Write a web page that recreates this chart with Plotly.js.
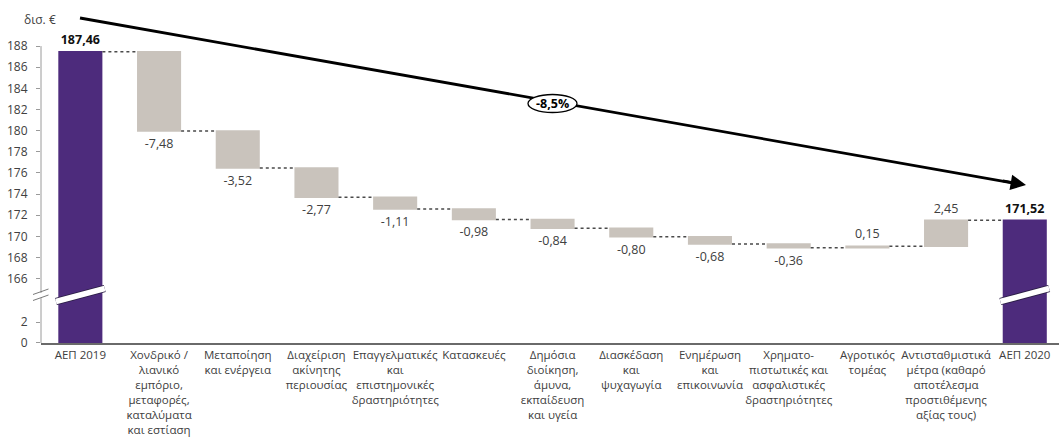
<!DOCTYPE html>
<html><head><meta charset="utf-8">
<script src="https://cdn.plot.ly/plotly-3.0.1.min.js"></script>
<style>html,body{margin:0;padding:0;background:#fff}</style>
</head><body>
<div id="chart" style="width:1059px;height:437px"></div>
<script>
// ---- data ----
const categories = [
  'ΑΕΠ 2019',
  'Χονδρικό /<br>λιανικό<br>εμπόριο,<br>μεταφορές,<br>καταλύματα<br>και εστίαση',
  'Μεταποίηση<br>και ενέργεια',
  'Διαχείριση<br>ακίνητης<br>περιουσίας',
  'Επαγγελματικές<br>και<br>επιστημονικές<br>δραστηριότητες',
  'Κατασκευές',
  'Δημόσια<br>διοίκηση,<br>άμυνα,<br>εκπαίδευση<br>και υγεία',
  'Διασκέδαση<br>και<br>ψυχαγωγία',
  'Ενημέρωση<br>και<br>επικοινωνία',
  'Χρηματο-<br>πιστωτικές και<br>ασφαλιστικές<br>δραστηριότητες',
  'Αγροτικός<br>τομέας',
  'Αντισταθμιστικά<br>μέτρα (καθαρό<br>αποτέλεσμα<br>προστιθέμενης<br>αξίας τους)',
  'ΑΕΠ 2020'
];
const gdp2019 = 187.46;
const gdp2020 = 171.52;
const contributions = [-7.48, -3.52, -2.77, -1.11, -0.98, -0.84, -0.80, -0.68, -0.36, 0.15, 2.45];
const changeLabel = '-8,5%';
const unitLabel = 'δισ. €';
const upperTicks = [166,168,170,172,174,176,178,180,182,184,186,188];
const lowerTicks = [0,2];

// ---- build ----
const fmt = v => v.toFixed(2).replace('.', ',');
const yVals = [gdp2019].concat(contributions, [gdp2020]);
const measures = ['absolute'].concat(contributions.map(() => 'relative'), ['total']);
const texts = yVals.map((v, i) => (i === 0 || i === yVals.length - 1) ? '<b>' + fmt(v) + '</b>' : fmt(v));
const textColors = yVals.map((v, i) => (i === 0 || i === yVals.length - 1) ? '#111111' : '#404040');

const PURPLE = '#4d2b7c';
const GREY = '#c9c3bc';

const L = 41, W = 1018, H = 343;  // plot area in pixels
const px = x => (x - L) / W;
const py = y => 1 - y / H;

const waterfall = {
  type: 'waterfall',
  x: categories, y: yVals, measure: measures,
  xaxis: 'x', yaxis: 'y2',
  width: 0.56,
  text: texts, textposition: 'outside',
  textfont: {size: 12.5, color: textColors},
  outsidetextfont: {size: 12.5, color: textColors},
  decreasing: {marker: {color: GREY}},
  increasing: {marker: {color: GREY}},
  totals: {marker: {color: PURPLE}},
  connector: {mode: 'between', line: {color: '#4a4a4a', width: 1.5, dash: 'dot'}},
  hoverinfo: 'skip'
};
const lowerBars = {
  type: 'bar',
  x: [categories[0], categories[categories.length - 1]],
  y: [gdp2019, gdp2020],
  width: 0.56,
  xaxis: 'x', yaxis: 'y',
  marker: {color: PURPLE},
  hoverinfo: 'skip'
};

const shapes = [];
// broken y-axis lines
shapes.push({type: 'line', xref: 'paper', yref: 'y2', x0: 0, x1: 0, y0: 164.65, y1: 188, line: {color: '#9a9a9a', width: 1}});
shapes.push({type: 'line', xref: 'paper', yref: 'y', x0: 0, x1: 0, y0: 0, y1: 4.3, line: {color: '#9a9a9a', width: 1}});
// axis break marks
shapes.push({type: 'line', xref: 'paper', yref: 'paper', x0: px(33), y0: py(294.5), x1: px(48.5), y1: py(289), line: {color: '#7a7a7a', width: 1}});
shapes.push({type: 'line', xref: 'paper', yref: 'paper', x0: px(33), y0: py(300.5), x1: px(48.5), y1: py(295), line: {color: '#7a7a7a', width: 1}});
// bar break slashes
[0, categories.length - 1].forEach(i => {
  const dx = 0.31;
  shapes.push({type: 'line', xref: 'x', yref: 'paper', x0: i - dx, y0: py(301.5), x1: i + dx, y1: py(288.5), line: {color: '#2a1d44', width: 7.5}});
  shapes.push({type: 'line', xref: 'x', yref: 'paper', x0: i - dx, y0: py(301.5), x1: i + dx, y1: py(288.5), line: {color: '#ffffff', width: 5.5}});
});
// trend arrow line
shapes.push({type: 'line', xref: 'paper', yref: 'paper', x0: px(80), y0: py(18), x1: px(1015), y1: py(183.3), line: {color: '#000000', width: 2.8}});
// ellipse
shapes.push({type: 'circle', xref: 'paper', yref: 'paper', x0: px(528), x1: px(577), y0: py(112.5), y1: py(94.5), fillcolor: '#ffffff', line: {color: '#000000', width: 1.3}});

const annotations = [
  {xref: 'paper', yref: 'paper', x: px(1026), y: py(185), ax: -24.6, ay: -4.3, text: '', showarrow: true,
   arrowhead: 2, arrowsize: 1.1, arrowwidth: 2.8, arrowcolor: '#000000', standoff: 0},
  {xref: 'paper', yref: 'paper', x: px(552.5), y: py(103.5), text: '<b>' + changeLabel + '</b>', showarrow: false,
   font: {size: 12.5, color: '#000000'}, xanchor: 'center', yanchor: 'middle'},
  {xref: 'paper', yref: 'paper', x: px(58), y: py(20), text: unitLabel, showarrow: false,
   font: {size: 12, color: '#404040'}, xanchor: 'right', yanchor: 'middle'}
];

const layout = {
  width: 1059, height: 437,
  margin: {l: L, r: 0, t: 0, b: 94},
  paper_bgcolor: '#ffffff', plot_bgcolor: '#ffffff',
  font: {family: '"Open Sans", sans-serif', size: 12, color: '#404040'},
  separators: ',.',
  showlegend: false,
  waterfallgap: 0.44, bargap: 0.44,
  xaxis: {
    type: 'category', categoryorder: 'array', categoryarray: categories,
    range: [-0.5, 12.435], anchor: 'y', tickangle: 0, automargin: false,
    showline: true, linecolor: '#6a6a6a', linewidth: 1.5,
    ticks: '', showgrid: false, zeroline: false, ticklabelstandoff: 1,
    tickfont: {size: 11.5, color: '#404040'}, fixedrange: true
  },
  yaxis: {
    domain: [0, 0.137], range: [0, 4.5], anchor: 'x',
    tickvals: lowerTicks, ticks: 'outside', ticklen: 4, tickcolor: '#9a9a9a', tickwidth: 1,
    showline: false, showgrid: false, zeroline: false, ticklabelstandoff: 6,
    tickfont: {size: 12, color: '#404040'}, fixedrange: true
  },
  yaxis2: {
    domain: [0.137, 1], range: [164.36, 192.36], anchor: 'x',
    tickvals: upperTicks, ticks: 'outside', ticklen: 4, tickcolor: '#9a9a9a', tickwidth: 1,
    showline: false, showgrid: false, zeroline: false, ticklabelstandoff: 6,
    tickfont: {size: 12, color: '#404040'}, fixedrange: true
  },
  shapes: shapes,
  annotations: annotations
};

Plotly.newPlot('chart', [lowerBars, waterfall], layout, {displayModeBar: false, staticPlot: true});
</script>
</body></html>
